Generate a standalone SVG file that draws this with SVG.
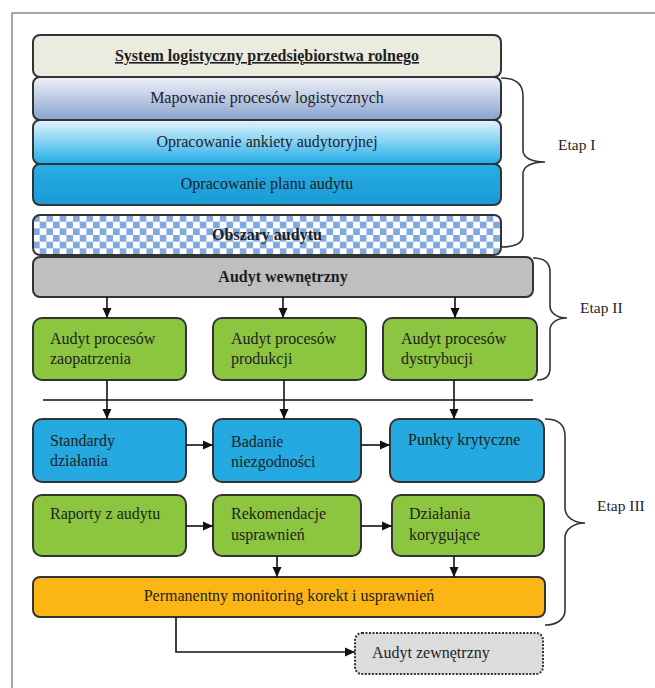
<svg xmlns="http://www.w3.org/2000/svg" width="655" height="688" viewBox="0 0 655 688">
<defs>
<linearGradient id="gMap" x1="0" y1="0" x2="0" y2="1"><stop offset="0" stop-color="#eef2f8"/><stop offset="1" stop-color="#88a3cf"/></linearGradient>
<linearGradient id="gAnk" x1="0" y1="0" x2="0" y2="1"><stop offset="0" stop-color="#e2f5fd"/><stop offset="1" stop-color="#22ade8"/></linearGradient>
<linearGradient id="gPlan" x1="0" y1="0" x2="0" y2="1"><stop offset="0" stop-color="#28ade6"/><stop offset="1" stop-color="#1a9bd6"/></linearGradient>
<pattern id="chk" x="33" y="215" width="13.34" height="13.34" patternUnits="userSpaceOnUse"><rect width="13.34" height="13.34" fill="#ffffff"/><rect width="6.67" height="6.67" fill="#82a9dd"/><rect x="6.67" y="6.67" width="6.67" height="6.67" fill="#82a9dd"/></pattern>
<marker id="ah" markerWidth="10" markerHeight="10" refX="10" refY="5" orient="auto" markerUnits="userSpaceOnUse"><path d="M0,0.5 L10,5 L0,9.5 z" fill="#111"/></marker>
</defs>
<style>
.box{stroke:#333;stroke-width:2}
.t{font-family:"Liberation Serif","Times New Roman",serif;font-size:16px;fill:#1e1e1e}
.b{font-weight:bold}
.c{text-anchor:middle}
.e{font-size:15.5px}
.ln{stroke:#111;stroke-width:1.6;fill:none}
.br{stroke:#333;stroke-width:1.6;fill:none}
.grn{fill:#8cc540}
.blu{fill:#24a9e1}
</style>
<g id="frame"><path d="M12,688 V13 H655" fill="none" stroke="#8a8a8a" stroke-width="1.5"/></g>

<g id="system"><rect class="box" x="33" y="35" width="468" height="42" rx="7" fill="#ecebe0"/><text class="t b c" x="267" y="61" text-decoration="underline">System logistyczny przedsiębiorstwa rolnego</text></g>
<g id="mapowanie"><rect class="box" x="33" y="77" width="468" height="43" rx="7" fill="url(#gMap)"/><text class="t c" x="267" y="103">Mapowanie procesów logistycznych</text></g>
<g id="ankieta"><rect class="box" x="33" y="120" width="468" height="44" rx="7" fill="url(#gAnk)"/><text class="t c" x="267" y="147">Opracowanie ankiety audytoryjnej</text></g>
<g id="plan"><rect class="box" x="33" y="164" width="468" height="41" rx="7" fill="url(#gPlan)"/><text class="t c" x="267" y="189">Opracowanie planu audytu</text></g>
<g id="obszary"><rect class="box" x="33" y="215" width="468" height="40" rx="7" fill="url(#chk)"/><text class="t b c" x="267" y="240">Obszary audytu</text></g>
<g id="wewnetrzny"><rect class="box" x="33" y="257" width="500" height="40" rx="7" fill="#bfbfbf"/><text class="t b c" x="283" y="282">Audyt wewnętrzny</text></g>

<g id="zaopatrzenie"><rect class="box grn" x="33" y="318" width="153" height="62" rx="9"/><text class="t" x="50" y="344">Audyt procesów</text><text class="t" x="50" y="364">zaopatrzenia</text></g>
<g id="produkcja"><rect class="box grn" x="213" y="318" width="153" height="62" rx="9"/><text class="t" x="231" y="344">Audyt procesów</text><text class="t" x="231" y="364">produkcji</text></g>
<g id="dystrybucja"><rect class="box grn" x="383" y="318" width="154" height="62" rx="9"/><text class="t" x="401" y="344">Audyt procesów</text><text class="t" x="401" y="364">dystrybucji</text></g>

<g id="standardy"><rect class="box blu" x="33" y="419" width="153" height="63" rx="9"/><text class="t" x="50" y="446">Standardy</text><text class="t" x="50" y="466">działania</text></g>
<g id="badanie"><rect class="box blu" x="213" y="419" width="148" height="63" rx="9"/><text class="t" x="231" y="447">Badanie</text><text class="t" x="231" y="467">niezgodności</text></g>
<g id="punkty"><rect class="box blu" x="390" y="419" width="154" height="63" rx="9"/><text class="t" x="408" y="445">Punkty krytyczne</text></g>

<g id="raporty"><rect class="box grn" x="33" y="495" width="153" height="61" rx="9"/><text class="t" x="50" y="519">Raporty z audytu</text></g>
<g id="rekomendacje"><rect class="box grn" x="213" y="495" width="148" height="61" rx="9"/><text class="t" x="231" y="519">Rekomendacje</text><text class="t" x="231" y="540">usprawnień</text></g>
<g id="dzialania"><rect class="box grn" x="392" y="495" width="152" height="61" rx="9"/><text class="t" x="409" y="519">Działania</text><text class="t" x="409" y="540">korygujące</text></g>

<g id="monitoring"><rect class="box" x="33" y="577" width="512" height="40" rx="7" fill="#fbb616"/><text class="t c" x="289" y="601">Permanentny monitoring korekt i usprawnień</text></g>
<g id="zewnetrzny"><rect x="355" y="633" width="188" height="41" rx="7" fill="#dcdcdc" stroke="#333" stroke-width="2" stroke-dasharray="2,1.5"/><text class="t" x="372" y="658">Audyt zewnętrzny</text></g>

<g id="connectors">
<line class="ln" x1="107" y1="297" x2="107" y2="318" marker-end="url(#ah)"/>
<line class="ln" x1="283" y1="297" x2="283" y2="318" marker-end="url(#ah)"/>
<line class="ln" x1="455" y1="297" x2="455" y2="318" marker-end="url(#ah)"/>
<line class="ln" x1="43" y1="400" x2="533" y2="400"/>
<line class="ln" x1="107" y1="380" x2="107" y2="419" marker-end="url(#ah)"/>
<line class="ln" x1="284" y1="380" x2="284" y2="419" marker-end="url(#ah)"/>
<line class="ln" x1="454" y1="380" x2="454" y2="419" marker-end="url(#ah)"/>
<line class="ln" x1="186" y1="445" x2="213" y2="445" marker-end="url(#ah)"/>
<line class="ln" x1="361" y1="445" x2="390" y2="445" marker-end="url(#ah)"/>
<line class="ln" x1="186" y1="526" x2="213" y2="526" marker-end="url(#ah)"/>
<line class="ln" x1="361" y1="526" x2="392" y2="526" marker-end="url(#ah)"/>
<line class="ln" x1="277" y1="556" x2="277" y2="577" marker-end="url(#ah)"/>
<line class="ln" x1="454" y1="556" x2="454" y2="577" marker-end="url(#ah)"/>
<path class="ln" d="M176,617 V652 H355" marker-end="url(#ah)"/>
</g>

<g id="etap1"><path class="br" d="M501,78 C515,78 523,84 523,96 L523,150 C523,158 532,162 545,162 C532,162 523,166 523,174 L523,235 C523,243 515,247 501,247"/><text class="t e" x="558" y="150">Etap I</text></g>
<g id="etap2"><path class="br" d="M533,258 C545,258 550,263 550,272 L550,306 C550,313 557,318 567,318 C557,318 550,323 550,330 L550,368 C550,376 545,380 537,380"/><text class="t e" x="580" y="313">Etap II</text></g>
<g id="etap3"><path class="br" d="M545,419 C558,419 565,425 565,436 L565,508 C565,517 574,523 585,523 C574,523 565,529 565,538 L565,610 C565,620 556,625 545,625"/><text class="t e" x="597" y="511">Etap III</text></g>
</svg>
